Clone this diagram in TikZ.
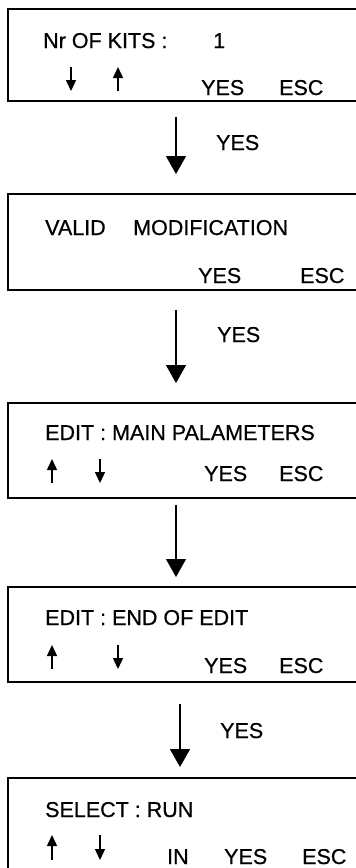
\documentclass[tikz,border=0pt]{standalone}
\usepackage{fontspec}
\setmainfont{Liberation Sans}[FakeBold=0.6]
\usetikzlibrary{arrows.meta}
\begin{document}
\begin{tikzpicture}[x=1pt,y=-1pt,
  screen/.style={draw, line width=1.6pt, rectangle, anchor=north west, minimum width=400pt, inner sep=0pt},
  txt/.style={anchor=base west, inner sep=0pt, font=\fontsize{21.5}{25}\selectfont},
  flow/.style={line width=1.3pt, -{Triangle[width=20pt,length=18pt]}},
  keyarrow/.style={line width=1.4pt, -{Triangle[width=10pt,length=11pt]}}]
\useasboundingbox (0,0) rectangle (356,868);
\clip (0,0) rectangle (356,868);

% screens
\node[screen, minimum height=92pt] (s1) at (7,8) {};
\node[screen, minimum height=96pt] (s2) at (7,193) {};
\node[screen, minimum height=95pt] (s3) at (7,402) {};
\node[screen, minimum height=95pt] (s4) at (7,586) {};
\node[screen, minimum height=140pt] (s5) at (7,777) {};

% screen 1
\node[txt] (t1a) at (43,48) {Nr OF KITS :};
\node[txt] (t1b) at (213,48) {1};
\node[txt] (t1y) at (201,95) {YES};
\node[txt] (t1e) at (279,95) {ESC};
\draw[keyarrow] (71,67) -- (71,91);
\draw[keyarrow] (118,91) -- (118,67);

% screen 2
\node[txt] (t2a) at (45,235) {VALID};
\node[txt] (t2b) at (133,235) {MODIFICATION};
\node[txt] (t2y) at (198,283) {YES};
\node[txt] (t2e) at (300,283) {ESC};

% screen 3
\node[txt] (t3a) at (45,440) {EDIT : MAIN PALAMETERS};
\node[txt] (t3y) at (204,481) {YES};
\node[txt] (t3e) at (279,481) {ESC};
\draw[keyarrow] (52,483) -- (52,459);
\draw[keyarrow] (100,459) -- (100,483);

% screen 4
\node[txt] (t4a) at (45,625) {EDIT : END OF EDIT};
\node[txt] (t4y) at (204,673) {YES};
\node[txt] (t4e) at (279,673) {ESC};
\draw[keyarrow] (52,669) -- (52,645);
\draw[keyarrow] (118,645) -- (118,669);

% screen 5
\node[txt] (t5a) at (45,817) {SELECT : RUN};
\node[txt] (t5i) at (167,864) {IN};
\node[txt] (t5y) at (224,864) {YES};
\node[txt] (t5e) at (302,864) {ESC};
\draw[keyarrow] (52,860) -- (52,835);
\draw[keyarrow] (100,835) -- (100,860);

% transitions
\coordinate (ax) at (176,0);
\coordinate (bx) at (180,0);
\draw[flow, shorten <=15pt, shorten >=19pt] (s1.south -| ax) -- (s2.north -| ax);
\draw[flow, shorten <=19pt, shorten >=19pt] (s2.south -| ax) -- (s3.north -| ax);
\draw[flow, shorten <=6pt, shorten >=9pt] (s3.south -| ax) -- (s4.north -| ax);
\draw[flow, shorten <=21pt, shorten >=10pt] (s4.south -| bx) -- (s5.north -| bx);
\node[txt] (l1) at (216,150) {YES};
\node[txt] (l2) at (217,342) {YES};
\node[txt] (l4) at (220,738) {YES};
\end{tikzpicture}
\end{document}
